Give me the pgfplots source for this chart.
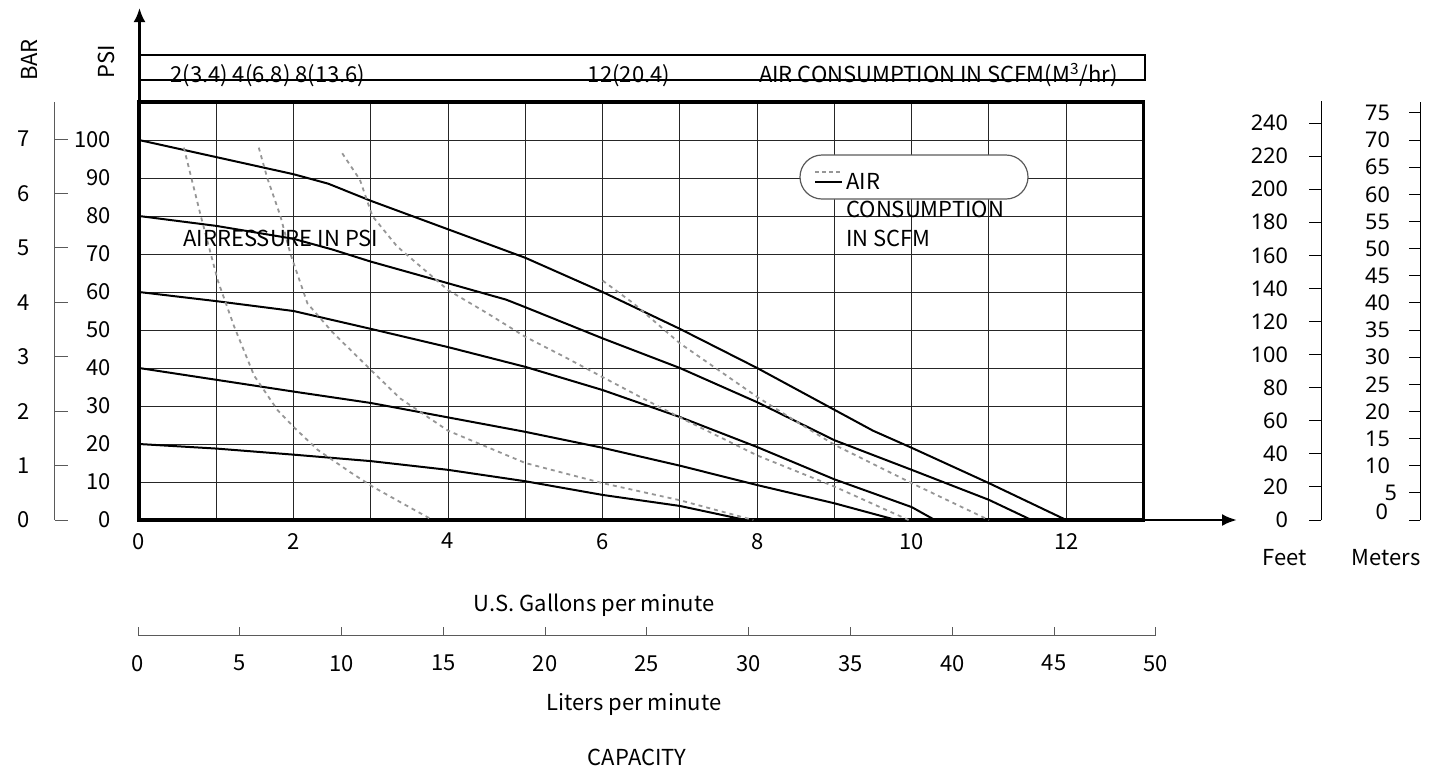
\documentclass[border=0pt]{standalone}
\usepackage{pgfplots}
\pgfplotsset{compat=1.18}
\usetikzlibrary{arrows.meta}
\usepackage{fontspec}
\setmainfont{Noto Sans CJK SC}
\newfontfamily\numfont{Noto Sans}
\newcommand{\lbl}{\fontsize{11}{13}\selectfont}
\newcommand{\nlbl}{\numfont\fontsize{10.8}{12}\selectfont}
\definecolor{dashgray}{RGB}{150,150,150}
\definecolor{axgray}{RGB}{90,90,90}

\begin{document}
\begin{tikzpicture}
% ---------------- main chart ----------------
\begin{axis}[
  at={(69.5pt,-260pt)}, anchor=south west,
  scale only axis, width=502.25pt, height=209pt,
  xmin=0, xmax=13, ymin=0, ymax=110,
  xtick={0,2,...,12}, minor xtick={1,3,...,13},
  ytick={0,10,...,100},
  grid=both,
  grid style={black!85, line width=0.5pt},
  minor grid style={black!85, line width=0.5pt},
  major tick length=0pt, minor tick length=0pt,
  axis line style={black, line width=1.6pt},
  tick label style={font=\lbl, /pgf/number format/assume math mode=true},
  xticklabel style={yshift=-3pt},
  yticklabel style={xshift=-10.5pt},
]
% pump curves at different air pressures (PSI)
\addplot[black, line width=1pt] coordinates {(0,100) (1,95.5) (2,91) (2.45,88.5) (3,84) (4,76.5) (5,69) (6,60) (7,50.3) (8,40) (9,29) (9.5,23.5) (10,19) (11,9.7) (12,0)};
\addplot[black, line width=1pt] coordinates {(0,80) (1,77.4) (2,74) (2.5,71.2) (3,68) (4,62.3) (4.75,58) (5,56) (6,47.8) (7,40) (8,31) (9,21) (10,13.2) (11,5.3) (11.55,0)};
\addplot[black, line width=1pt] coordinates {(0,60) (1,57.6) (2,55) (3,50.3) (4,45.5) (5,40.3) (6,34.2) (7,27.1) (8,19.2) (9,10.7) (10,3.4) (10.3,0)};
\addplot[black, line width=1pt] coordinates {(0,40) (1,36.9) (2,33.8) (3,30.8) (4,27) (5,23.2) (6,19) (7,14.3) (8,9.2) (9,4.4) (9.8,0)};
\addplot[black, line width=1pt] coordinates {(0,20) (1,18.8) (2,17.2) (3,15.5) (4,13.2) (5,10.2) (6,6.6) (7,3.7) (7.85,0)};
% air consumption curves (SCFM)
\addplot[dashgray, line width=0.9pt, dash pattern=on 2pt off 2pt] coordinates {(0.58,98) (0.8,80) (1.02,63) (1.23,51) (1.49,38) (1.79,29) (2.0,24.5) (2.31,18.5) (2.74,12.5) (3.03,8.7) (3.4,4.5) (3.8,0)};
\addplot[dashgray, line width=0.9pt, dash pattern=on 2pt off 2pt] coordinates {(1.55,98) (1.66,90) (1.83,80) (1.96,70) (2.18,57) (2.5,49.5) (3.0,39.5) (3.38,32) (4,23.5) (5,15) (6,9.7) (7,5.2) (7.95,0)};
\addplot[dashgray, line width=0.9pt, dash pattern=on 2pt off 2pt] coordinates {(2.63,96.5) (2.86,89.5) (3.02,80) (3.34,72) (4.0,60.5) (4.5,54.5) (5.0,48.2) (5.5,43) (6.0,37.6) (6.56,31.6) (7,27) (8,17) (9,8.8) (9.96,0)};
\addplot[dashgray, line width=0.9pt, dash pattern=on 2pt off 2pt] coordinates {(6.0,63) (6.4,57) (7,46.5) (8,32.4) (8.5,26) (9,19.8) (10,9.7) (11,0)};
\end{axis}

% ---------------- BAR scale ----------------
\begin{axis}[
  at={(27.5pt,-260pt)}, anchor=south west,
  scale only axis, width=5pt, height=209pt,
  xmin=0, xmax=1, ymin=0, ymax=7.68,
  hide x axis, axis y line*=left,
  ytick={0,...,7}, tick align=inside, major tick length=6.5pt,
  axis line style={axgray, line width=0.5pt},
  tick style={axgray, line width=0.5pt},
  tick label style={font=\lbl, /pgf/number format/assume math mode=true},
  yticklabel style={xshift=-9pt},
]
\end{axis}

% ---------------- Feet scale ----------------
\begin{axis}[
  at={(660.5pt,-260pt)}, anchor=south west,
  scale only axis, width=4pt, height=209.5pt,
  xmin=0, xmax=1, ymin=0, ymax=253.3,
  hide x axis, axis y line*=left,
  ytick={0,20,...,240}, tick align=outside, major tick length=6pt,
  axis line style={black, line width=0.5pt},
  tick style={black, line width=0.5pt},
  tick label style={font=\nlbl, /pgf/number format/assume math mode=true},
  yticklabel style={xshift=-7pt},
]
\end{axis}

% ---------------- Meters scale ----------------
\begin{axis}[
  at={(710pt,-260pt)}, anchor=south west,
  scale only axis, width=4pt, height=209pt,
  xmin=0, xmax=1, ymin=0, ymax=77,
  hide x axis, axis y line*=left,
  ytick={5,10,...,75}, tick align=outside, major tick length=5.5pt,
  yticklabels={5\hspace*{-3.5pt},10,15,20,25,30,35,40,45,50,55,60,65,70,75},
  extra y ticks={0},
  extra y tick style={tick label style={yshift=4pt, xshift=-1pt}},
  axis line style={black, line width=0.5pt},
  tick style={black, line width=0.5pt},
  tick label style={font=\nlbl, /pgf/number format/assume math mode=true},
  yticklabel style={xshift=-6pt},
]
\end{axis}

% ---------------- Liters scale ----------------
\begin{axis}[
  at={(69pt,-317.5pt)}, anchor=south west,
  scale only axis, width=509pt, height=5pt,
  xmin=0, xmax=50, ymin=0, ymax=1,
  hide y axis, axis x line*=bottom,
  xtick={0,5,...,50}, tick align=inside, major tick length=4pt,
  axis line style={axgray, line width=0.5pt},
  tick style={axgray, line width=0.5pt},
  tick label style={font=\lbl, /pgf/number format/assume math mode=true},
  xticklabel style={yshift=-6.5pt},
]
\end{axis}

% ---------------- decorations in pixel units ----------------
\begin{scope}[x=0.5pt, y=-0.5pt]
  % arrows of the main axes
  \draw[black, line width=1.3pt, -{Latex[length=7pt,width=6pt]}] (139.5,520) -- (139.5,8);
  \draw[black, line width=1.3pt, -{Latex[length=7.5pt,width=6pt]}] (1143,520) -- (1237,520);
  % air consumption strip
  \draw[black, line width=0.8pt] (139.5,55) rectangle (1145,80);
  \node[font=\lbl, anchor=west, inner sep=0pt] at (170,76) {2(3.4) 4(6.8) 8(13.6)};
  \node[font=\lbl, inner sep=0pt] at (629,76) {12(20.4)};
  \node[font=\lbl, anchor=east, inner sep=0pt] at (1118,75) {AIR CONSUMPTION IN SCFM(M\textsuperscript{3}/hr)};
  % axis titles
  \node[font=\lbl, rotate=90] at (29,60) {BAR};
  \node[font=\lbl, rotate=90] at (106,62) {PSI};
  \node[font=\lbl] at (1285,558) {Feet};
  \node[font=\lbl] at (1386,558) {Meters};
  \node[font=\lbl] at (594,605) {U.S. Gallons per minute};
  \node[font=\lbl] at (634,704) {Liters per minute};
  \node[font=\lbl] at (637,757) {CAPACITY};
  % in-plot label
  \node[font=\lbl, anchor=west, inner sep=0pt] at (183,238) {AIRRESSURE IN PSI};
  % legend
  \draw[axgray, line width=0.6pt, fill=white, rounded corners=11pt] (800,155) rectangle (1028,199);
  \draw[dashgray, line width=0.8pt, dash pattern=on 2pt off 1.5pt] (815,172) -- (842,172);
  \draw[black, line width=0.6pt] (815,182) -- (842,182);
  \node[font=\lbl, anchor=west, inner sep=0pt] at (846,181) {AIR};
  \node[font=\lbl, anchor=west, inner sep=0pt] at (846,209) {CONSUMPTION};
  \node[font=\lbl, anchor=west, inner sep=0pt] at (846,238) {IN SCFM};
\end{scope}

\pgfresetboundingbox
\path[use as bounding box] (0pt,0pt) rectangle (716pt,-386.5pt);
\end{tikzpicture}
\end{document}
